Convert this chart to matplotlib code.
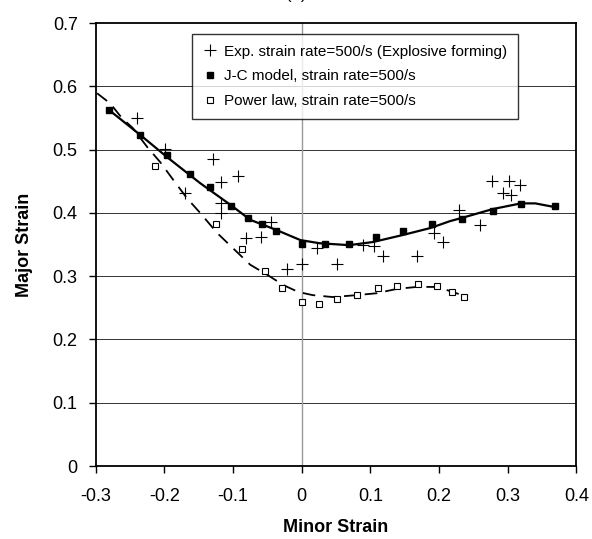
import numpy as np
import matplotlib.pyplot as plt

plt.rcParams['font.family'] = ['Liberation Sans', 'DejaVu Sans']

# Exp. strain rate=500/s (Explosive forming)
exp_x = [-0.240, -0.199, -0.170, -0.129, -0.117, -0.117, -0.117, -0.093, -0.081, -0.059,
         -0.045, -0.021, 0.000, 0.022, 0.051, 0.089, 0.105, 0.118, 0.168, 0.193,
         0.206, 0.229, 0.260, 0.277, 0.293, 0.302, 0.305, 0.318]
exp_y = [0.550, 0.501, 0.431, 0.485, 0.449, 0.415, 0.400, 0.458, 0.360, 0.362,
         0.385, 0.311, 0.319, 0.344, 0.320, 0.349, 0.348, 0.332, 0.332, 0.368,
         0.354, 0.404, 0.381, 0.450, 0.431, 0.450, 0.428, 0.444]

# J-C model, strain rate=500/s
jc_x = [-0.280, -0.235, -0.196, -0.163, -0.133, -0.103, -0.078, -0.058, -0.037, 0.000,
        0.034, 0.069, 0.108, 0.147, 0.190, 0.233, 0.278, 0.319, 0.369]
jc_y = [0.562, 0.523, 0.491, 0.461, 0.441, 0.411, 0.392, 0.382, 0.371, 0.351,
        0.351, 0.351, 0.362, 0.371, 0.382, 0.390, 0.403, 0.414, 0.411]

# Power law, strain rate=500/s
pl_x = [-0.214, -0.125, -0.087, -0.053, -0.029, 0.000, 0.025, 0.051, 0.080, 0.111,
        0.139, 0.169, 0.197, 0.219, 0.236]
pl_y = [0.474, 0.382, 0.343, 0.308, 0.281, 0.259, 0.256, 0.264, 0.271, 0.281,
        0.284, 0.287, 0.284, 0.275, 0.267]

# trend lines
jc_fit_x = [-0.280, -0.235, -0.196, -0.148, -0.103, -0.075, -0.037, -0.002, 0.026, 0.069,
            0.104, 0.147, 0.187, 0.216, 0.233, 0.278, 0.319, 0.340, 0.369]
jc_fit_y = [0.562, 0.523, 0.488, 0.447, 0.412, 0.389, 0.373, 0.357, 0.352, 0.349,
            0.354, 0.365, 0.376, 0.387, 0.392, 0.406, 0.415, 0.415, 0.409]
pl_fit_x = [-0.298, -0.279, -0.262, -0.246, -0.225, -0.206, -0.187, -0.167, -0.148, -0.123,
            -0.100, -0.075, -0.050, -0.027, -0.005, 0.016, 0.045, 0.080, 0.109, 0.139,
            0.168, 0.197, 0.220, 0.241]
pl_fit_y = [0.589, 0.573, 0.550, 0.534, 0.504, 0.480, 0.452, 0.423, 0.400, 0.368,
            0.344, 0.318, 0.302, 0.286, 0.275, 0.270, 0.267, 0.270, 0.273, 0.280,
            0.283, 0.283, 0.275, 0.267]

fig = plt.figure(figsize=(5.92, 5.39), dpi=100)
ax = fig.add_axes([0.1617, 0.1354, 0.8121, 0.8219])

for v in np.arange(0.1, 0.65, 0.1):
    ax.axhline(v, color='#333333', lw=0.7, zorder=1)
ax.axvline(0, color='#999999', lw=1.0, zorder=1)

ax.plot(jc_fit_x, jc_fit_y, color='black', lw=1.6, zorder=2)
ax.plot(pl_fit_x, pl_fit_y, color='black', lw=1.3, dashes=(7, 4.5), zorder=2)

ax.plot(exp_x, exp_y, ls='none', marker='+', ms=9, mew=0.8, color='black',
        label='Exp. strain rate=500/s (Explosive forming)', zorder=3)
ax.plot(jc_x, jc_y, ls='none', marker='s', ms=4.3, color='black',
        label='J-C model, strain rate=500/s', zorder=3)
ax.plot(pl_x, pl_y, ls='none', marker='s', ms=4.3, mew=0.8, mfc='white', mec='black',
        label='Power law, strain rate=500/s', zorder=3)

ax.set_xlim(-0.3, 0.4)
ax.set_ylim(0, 0.7)
ax.set_xticks(np.arange(-0.3, 0.41, 0.1))
ax.set_yticks(np.arange(0, 0.71, 0.1))
ax.set_xticklabels(['-0.3', '-0.2', '-0.1', '0', '0.1', '0.2', '0.3', '0.4'])
ax.set_yticklabels(['0', '0.1', '0.2', '0.3', '0.4', '0.5', '0.6', '0.7'])
ax.tick_params(direction='out', length=5, width=1, labelsize=13)
ax.tick_params(axis='x', pad=11)
ax.tick_params(axis='y', pad=8)

for s in ax.spines.values():
    s.set_linewidth(1.3)
    s.set_color('black')

ax.set_xlabel('Minor Strain', fontsize=13, fontweight='bold', labelpad=10)
ax.set_ylabel('Major Strain', fontsize=13, fontweight='bold', labelpad=14)

leg = ax.legend(loc='upper left', bbox_to_anchor=(0.200, 0.975), borderaxespad=0,
                fontsize=11, frameon=True, fancybox=False, handlelength=1.0,
                handletextpad=0.4, labelspacing=0.7, borderpad=0.7)
leg.get_frame().set_edgecolor('black')
leg.get_frame().set_linewidth(1.0)

fig.text(0.5, 0.996, '(b)', ha='center', va='bottom', fontsize=12)

fig.savefig('out.png', dpi=100)
